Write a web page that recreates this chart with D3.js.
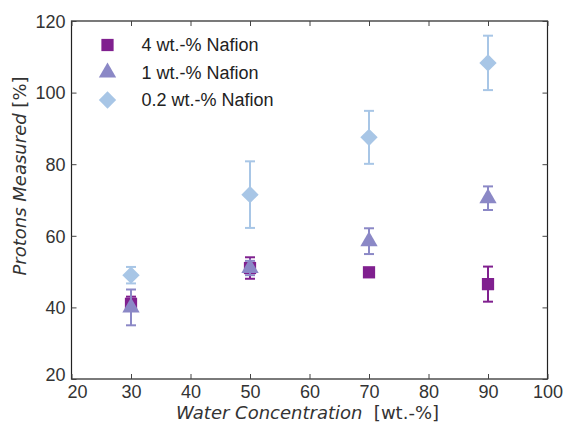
<!DOCTYPE html>
<html>
<head>
<meta charset="utf-8">
<script src="https://cdn.jsdelivr.net/npm/d3@7"></script>
<style>
  body { margin: 0; background: #fff; }
  svg text { font-family: "Liberation Sans", Arial, sans-serif; }
</style>
</head>
<body>
<div class="container"></div>
<script>
const w = 568;
const h = 426;
const margin = { top: 21, bottom: 47, left: 71.5, right: 20.5 };
const width = w - margin.left - margin.right;
const height = h - margin.top - margin.bottom;

// data
const water = [30, 50, 70, 90];
const seriesNames = ['4 wt.-% Nafion', '1 wt.-% Nafion', '0.2 wt.-% Nafion'];
const nafion4 = [41, 51, 49.8, 46.5];
const nafion4Err = [2, 3, 1, 4.9];
const nafion1 = [40, 51, 58.5, 70.5];
const nafion1Err = [5, 2, 3.6, 3.3];
const nafion02 = [49, 71.5, 87.5, 108.3];
const nafion02Err = [2.3, 9.3, 7.4, 7.6];
const xTicks = [20, 30, 40, 50, 60, 70, 80, 90, 100];
const yTicks = [20, 40, 60, 80, 100, 120];

const colors = ['#80208f', '#8b88c6', '#a8c6e6'];
const shapes = [d3.symbolSquare, d3.symbolTriangle, d3.symbolSquare];
const sizes = [150, 130, 150];
const rotations = [0, 0, 45];

const series = [
  { name: seriesNames[0], values: nafion4, err: nafion4Err },
  { name: seriesNames[1], values: nafion1, err: nafion1Err },
  { name: seriesNames[2], values: nafion02, err: nafion02Err }
];

const svg = d3.select('.container').append('svg')
  .attr('width', w)
  .attr('height', h);

const chart = svg.append('g')
  .attr('transform', `translate(${margin.left}, ${margin.top})`);

const x = d3.scaleLinear().domain([20, 100]).range([0, width]);
const y = d3.scaleLinear().domain([20, 120]).range([height, 0]);

// frame
chart.append('rect')
  .attr('width', width)
  .attr('height', height)
  .attr('fill', 'none')
  .attr('stroke', '#222')
  .attr('stroke-width', 1.2);

function styleAxis(g, showLabels) {
  g.select('.domain').remove();
  g.selectAll('.tick line').attr('stroke', '#444');
  g.selectAll('.tick text')
    .attr('fill', '#333')
    .attr('font-size', 18);
  if (!showLabels) g.selectAll('.tick text').remove();
}

chart.append('g')
  .attr('transform', `translate(0, ${height})`)
  .call(d3.axisBottom(x).tickValues(xTicks).tickSize(-5).tickPadding(6))
  .call(g => styleAxis(g, true));

chart.append('g')
  .call(d3.axisTop(x).tickValues(xTicks).tickSize(-5))
  .call(g => styleAxis(g, false));

chart.append('g')
  .call(d3.axisLeft(y).tickValues(yTicks).tickSize(-5).tickPadding(6))
  .call(g => styleAxis(g, true))
  .call(g => g.selectAll('.tick text').attr('dy', '0.35em'));

chart.append('g')
  .attr('transform', `translate(${width}, 0)`)
  .call(d3.axisRight(y).tickValues(yTicks).tickSize(-5))
  .call(g => styleAxis(g, false));

// nudge the 20 labels apart like the original
chart.selectAll('.tick text').filter(d => d === 20).each(function() {
  const t = d3.select(this);
  if (t.attr('x') && +t.attr('x') < 0) t.attr('dy', '0.1em');
  else if (t.attr('y') && +t.attr('y') > 0) t.attr('dx', '0.3em');
});

// series: error bars then markers, in legend order
series.forEach((s, si) => {
  const g = chart.append('g').attr('class', 'series');
  const pts = water.map((wc, i) => ({ x: wc, y: s.values[i], e: s.err[i] }));

  const eb = g.selectAll('.err').data(pts).enter().append('g')
    .attr('stroke', colors[si])
    .attr('stroke-width', 2);
  eb.append('line')
    .attr('x1', d => x(d.x)).attr('x2', d => x(d.x))
    .attr('y1', d => y(d.y - d.e)).attr('y2', d => y(d.y + d.e));
  eb.append('line')
    .attr('x1', d => x(d.x) - 5).attr('x2', d => x(d.x) + 5)
    .attr('y1', d => y(d.y - d.e)).attr('y2', d => y(d.y - d.e));
  eb.append('line')
    .attr('x1', d => x(d.x) - 5).attr('x2', d => x(d.x) + 5)
    .attr('y1', d => y(d.y + d.e)).attr('y2', d => y(d.y + d.e));

  g.selectAll('.pt').data(pts).enter().append('path')
    .attr('d', d3.symbol().type(shapes[si]).size(sizes[si]))
    .attr('transform', d => `translate(${x(d.x)}, ${y(d.y)}) rotate(${rotations[si]})`)
    .attr('fill', colors[si]);
});

// legend
const legend = chart.append('g')
  .attr('transform', 'translate(36, 24)');
series.forEach((s, i) => {
  const row = legend.append('g').attr('transform', `translate(0, ${i * 27.5})`);
  row.append('path')
    .attr('d', d3.symbol().type(shapes[i]).size(sizes[i]))
    .attr('transform', `rotate(${rotations[i]})`)
    .attr('fill', colors[i]);
  row.append('text')
    .attr('x', 34)
    .attr('dy', '0.35em')
    .attr('font-size', 18)
    .attr('fill', '#222')
    .text(s.name);
});

// axis titles
svg.append('text')
  .attr('x', margin.left + width / 2 - 2)
  .attr('y', 419)
  .attr('text-anchor', 'middle')
  .attr('font-size', 18)
  .attr('fill', '#333')
  .style('font-family', '"DejaVu Sans", sans-serif')
  .call(t => {
    t.append('tspan').attr('font-style', 'italic').text('Water Concentration');
    t.append('tspan').text('\u00a0\u00a0[wt.-%]');
  });

svg.append('text')
  .attr('transform', `translate(26, ${margin.top + height / 2 - 24}) rotate(-90)`)
  .attr('text-anchor', 'middle')
  .attr('font-size', 18)
  .attr('fill', '#333')
  .style('font-family', '"DejaVu Sans", sans-serif')
  .call(t => {
    t.append('tspan').attr('font-style', 'italic').text('Protons Measured');
    t.append('tspan').text(' [%]');
  });
</script>
</body>
</html>
